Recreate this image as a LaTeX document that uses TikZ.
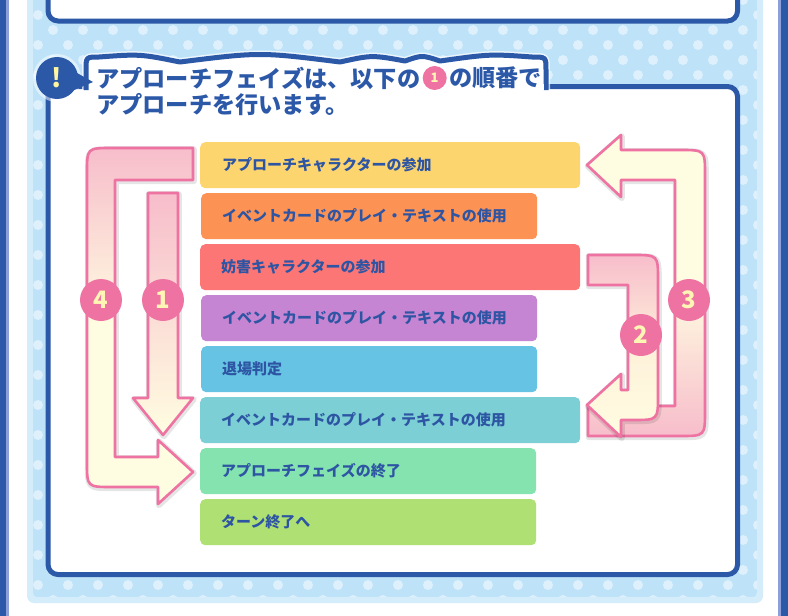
\documentclass[tikz,border=0pt]{standalone}
\usepackage{fontspec}
\newfontfamily\jp{Noto Sans CJK JP}
\definecolor{dblue}{HTML}{2C58A8}
\definecolor{lav}{HTML}{8C9FD8}
\definecolor{skyb}{HTML}{BEE3F8}
\definecolor{skypale}{HTML}{D5EDFB}
\definecolor{dotc}{HTML}{DDF0FC}
\definecolor{pinkb}{HTML}{EE73A2}
\definecolor{pinkf}{HTML}{F7BDCB}
\definecolor{cream}{HTML}{FFFDE1}
\definecolor{numtxt}{HTML}{FFF6B5}
\definecolor{txtblue}{HTML}{2D55A3}
\definecolor{cyel}{HTML}{FDD56E}
\definecolor{cora}{HTML}{FD9255}
\definecolor{cred}{HTML}{FC7676}
\definecolor{cpur}{HTML}{C585D3}
\definecolor{cblu}{HTML}{66C3E3}
\definecolor{ctea}{HTML}{7BCFD5}
\definecolor{cgre}{HTML}{84E3AF}
\definecolor{clim}{HTML}{AFE073}
\tikzset{
  barbox/.style={rounded corners=5pt, inner sep=0pt, minimum height=46pt, anchor=north west},
  bartext/.style={text=txtblue, font=\jp\bfseries\fontsize{15}{15}\selectfont, anchor=west, inner sep=0pt},
  titletext/.style={text=dblue, font=\jp\bfseries\fontsize{23.2}{26}\selectfont, inner sep=0pt},
  numc/.style={circle, fill=pinkb, minimum size=42pt, inner sep=0pt, text=numtxt, font=\jp\bfseries\fontsize{24}{24}\selectfont},
  arrowshape/.style={draw=pinkb, line width=2.6pt, line join=round},
  ashadow/.style={draw=black, opacity=0.10, line width=6pt, line join=round, xshift=0.8pt, yshift=-1.2pt},
}
\def\pathAfour{(193,148) -- (112,148) .. controls (87,148) .. (87,173) -- (87,462) .. controls (87,487) .. (112,487) -- (158,487) -- (158,504) -- (193,472) -- (158,440) -- (158,457) -- (115,457) -- (115,180) -- (193,180) -- cycle}
\def\pathAone{(148,193) -- (178,193) -- (178,398) -- (193,398) -- (163,435) -- (133,398) -- (148,398) -- cycle}
\def\pathAthree{(588,406) -- (675,406) -- (675,180) -- (621,180) -- (621,197) -- (587,165) -- (621,135) -- (621,150) -- (680,150) .. controls (705,150) .. (705,175) -- (705,411) .. controls (705,436) .. (680,436) -- (588,436) -- cycle}
\def\pathAtwo{(588,255) -- (633,255) .. controls (658,255) .. (658,280) -- (658,395) .. controls (658,420) .. (633,420) -- (621,420) -- (621,437) -- (587,405) -- (621,374) -- (621,390) -- (628,390) -- (628,285) -- (588,285) -- cycle}
\def\tabpath{(86,90) -- (86,70) .. controls (86,57) .. (99,57) .. controls (140,54) .. (180,62) .. controls (260,52) .. (340,62) .. controls (372,55) .. (405,61) .. controls (422,55) .. (440,61) .. controls (490,54) .. (532,57) .. controls (546,57) .. (546,70) -- (546,90)}
\begin{document}
\begin{tikzpicture}[x=1pt,y=-1pt]
\useasboundingbox (0,0) rectangle (788,616);
% page background
\fill[white] (0,0) rectangle (788,616);
\fill[dblue] (0,0) rectangle (6,616);
\fill[lav] (6,0) rectangle (9,616);
\fill[lav] (778,0) rectangle (781,616);
\fill[dblue] (781,0) rectangle (788,616);
% light blue panel
\fill[skypale, rounded corners=7pt] (27,-20) rectangle (763,603);
\begin{scope}
  \clip[rounded corners=4pt] (33,-20) rectangle (757,597);
  \fill[skyb] (33,-20) rectangle (757,597);
  \foreach \j in {0,...,40} {
    \pgfmathtruncatemacro{\off}{mod(\j,2)==0 ? 23 : 8}
    \foreach \i in {0,...,25} {
      \fill[dotc] ({\off+30*\i},{15*\j}) circle (5pt);
    }
  }
\end{scope}
% top frame (partly visible)
\draw[dblue, line width=5pt, fill=white, rounded corners=10pt] (48,-30) rectangle (737.5,21);
% main frame
\draw[dblue, line width=5pt, fill=white, rounded corners=10pt] (48,86.5) rectangle (737.5,574.5);
% title tab
\fill[white] \tabpath -- cycle;
\draw[white, line width=8pt, line join=round, opacity=0.7] \tabpath;
\draw[dblue, line width=5pt, line join=round] \tabpath;
\fill[white] (88.5,83.5) rectangle (543.5,89.6);
% exclamation bubble
\fill[white, opacity=0.5] (57,78) circle (24pt);
\fill[dblue] (70,69) -- (93,82) -- (72,91) -- cycle;
\node[circle, fill=dblue, minimum size=42pt, inner sep=0pt, text={rgb,255:red,255;green,247;blue,160}, font=\jp\bfseries\fontsize{26}{26}\selectfont] (excl) at (57,78) {!};
% title text
\node[titletext, anchor=west] (t1a) at (96,78) {アプローチフェイズは、以下の};
\node[circle, fill=pinkb, minimum size=24pt, inner sep=0pt, text=numtxt, font=\jp\bfseries\fontsize{13}{13}\selectfont, anchor=west] (tc) at ([xshift=2pt]t1a.east) {1};
\node[titletext, anchor=west] (t1b) at ([xshift=2pt]tc.east) {の順番で};
\node[titletext, anchor=west] (t2) at (96,105) {アプローチを行います。};
% bars
\node[barbox, fill=cyel, minimum width=380pt] (b1) at (200,142) {};
\node[barbox, fill=cora, minimum width=336pt] (b2) at (201,193) {};
\node[barbox, fill=cred, minimum width=380pt] (b3) at (200,244) {};
\node[barbox, fill=cpur, minimum width=336pt] (b4) at (201,295) {};
\node[barbox, fill=cblu, minimum width=336pt] (b5) at (201,346) {};
\node[barbox, fill=ctea, minimum width=380pt] (b6) at (200,397) {};
\node[barbox, fill=cgre, minimum width=336pt] (b7) at (200,448) {};
\node[barbox, fill=clim, minimum width=336pt] (b8) at (200,499) {};
\node[bartext] (l1) at ([xshift=22pt]b1.west) {アプローチキャラクターの参加};
\node[bartext] (l2) at ([xshift=21pt]b2.west) {イベントカードのプレイ・テキストの使用};
\node[bartext] (l3) at ([xshift=21pt]b3.west) {妨害キャラクターの参加};
\node[bartext] (l4) at ([xshift=21pt]b4.west) {イベントカードのプレイ・テキストの使用};
\node[bartext] (l5) at ([xshift=21pt]b5.west) {退場判定};
\node[bartext] (l6) at ([xshift=21pt]b6.west) {イベントカードのプレイ・テキストの使用};
\node[bartext] (l7) at ([xshift=21pt]b7.west) {アプローチフェイズの終了};
\node[bartext] (l8) at ([xshift=21pt]b8.west) {ターン終了へ};
% arrows
\draw[ashadow] \pathAfour;
\draw[arrowshape, top color=pinkf, bottom color=cream, middle color=cream] \pathAfour;
\draw[ashadow] \pathAone;
\draw[arrowshape, top color=pinkf, bottom color=cream] \pathAone;
\draw[ashadow] \pathAthree;
\draw[arrowshape, top color=cream, bottom color=pinkf, middle color=cream] \pathAthree;
\draw[ashadow] \pathAtwo;
\draw[arrowshape, top color=pinkf, bottom color=cream, middle color={rgb,255:red,254;green,240;blue,218}] \pathAtwo;
% number circles
\node[numc] (n4) at (101,300) {4};
\node[numc] (n1) at (163,300) {1};
\node[numc] (n3) at (689,300) {3};
\node[numc] (n2) at (641,335) {2};
\end{tikzpicture}
\end{document}
